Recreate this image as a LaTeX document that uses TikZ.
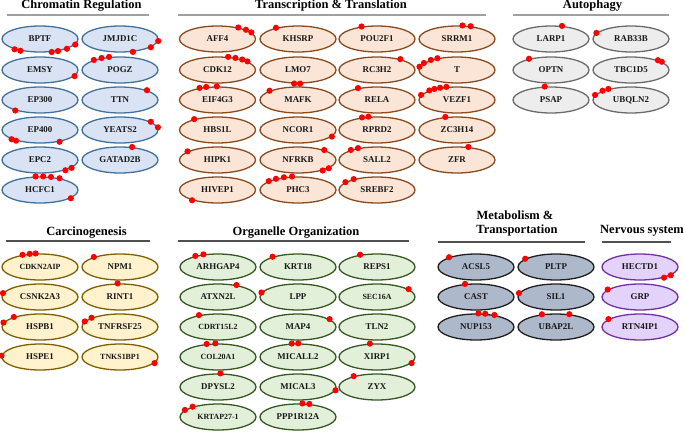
\documentclass[tikz,border=0pt]{standalone}
\usepackage{fontspec}
\setmainfont{Liberation Serif}
\usetikzlibrary{shapes.geometric}
\definecolor{chrF}{HTML}{DAE3F3}\definecolor{chrD}{HTML}{41719C}
\definecolor{trF}{HTML}{FBE5D6}\definecolor{trD}{HTML}{8B4A1E}
\definecolor{auF}{HTML}{EDEDED}\definecolor{auD}{HTML}{6B6B6B}
\definecolor{caF}{HTML}{FFF2CC}\definecolor{caD}{HTML}{7F6000}
\definecolor{orF}{HTML}{E2F0D9}\definecolor{orD}{HTML}{385723}
\definecolor{meF}{HTML}{ADB9CA}\definecolor{meD}{HTML}{1F1F1F}
\definecolor{nvF}{HTML}{E3D3FA}\definecolor{nvD}{HTML}{7030A0}
\definecolor{lineTop}{HTML}{A0A0A0}\definecolor{lineBot}{HTML}{505050}
\newcommand\putdots[2]{\foreach \a in {#2} {\fill[reddot] (#1.\a) circle (3.1pt);}}
\begin{document}
\begin{tikzpicture}[x=1pt,y=-1pt,
  gene/.style={ellipse, minimum width=76pt, minimum height=26pt, inner sep=0pt,
    line width=1.3pt, font=\bfseries\fontsize{8.9}{10}\selectfont, text=black!90},
  sm/.style={font=\bfseries\fontsize{7.9}{9}\selectfont},
  chr/.style={gene, draw=chrD, fill=chrF},
  tr/.style={gene, draw=trD, fill=trF},
  au/.style={gene, draw=auD, fill=auF},
  ca/.style={gene, draw=caD, fill=caF},
  org/.style={gene, draw=orD, fill=orF},
  met/.style={gene, draw=meD, fill=meF},
  nv/.style={gene, draw=nvD, fill=nvF},
  title/.style={font=\bfseries\fontsize{12.5}{14}\selectfont, anchor=base, inner sep=0pt},
  tlineA/.style={line width=1.3pt, draw=lineTop},
  tlineB/.style={line width=1.3pt, draw=lineBot},
  reddot/.style={fill=red}]
\useasboundingbox (0,0) rectangle (685,431);

% ---------- titles ----------
\node[title] (tChr) at (81.5,9) {Chromatin Regulation};
\draw[tlineA] (7,15) -- (149,15);
\node[title] (tTr) at (331,9) {Transcription \& Translation};
\draw[tlineA] (178,15) -- (486,15);
\node[title] (tAu) at (592.5,9) {Autophagy};
\draw[tlineA] (513,15) -- (669,15);
\node[title] (tCa) at (86.5,235) {Carcinogenesis};
\draw[tlineB] (6,241) -- (150,241);
\node[title] (tOr) at (296,235) {Organelle Organization};
\draw[tlineB] (178,241) -- (409,241);
\node[title] (tMe1) at (515,219) {Metabolism \&};
\node[title] (tMe2) at (517,233) {Transportation};
\draw[tlineB] (438,242) -- (585,242);
\node[title] (tNv) at (642,233) {Nervous system};
\draw[tlineB] (602,242) -- (671,242);

% ---------- Chromatin Regulation ----------
\node[chr] (BPTF)    at (40,39)  {BPTF};
\node[chr] (EMSY)    at (40,70)  {EMSY};
\node[chr] (EP300)   at (40,100) {EP300};
\node[chr] (EP400)   at (40,130) {EP400};
\node[chr] (EPC2)    at (40,160) {EPC2};
\node[chr] (HCFC1)   at (40,190) {HCFC1};
\node[chr] (JMJD1C)  at (120,39)  {JMJD1C};
\node[chr] (POGZ)    at (120,70)  {POGZ};
\node[chr] (TTN)     at (120,100) {TTN};
\node[chr] (YEATS2)  at (120,130) {YEATS2};
\node[chr] (GATAD2B) at (120,160) {GATAD2B};

% ---------- Transcription & Translation ----------
\node[tr] (AFF4)   at (217.5,39)  {AFF4};
\node[tr] (CDK12)  at (217.5,70)  {CDK12};
\node[tr] (EIF4G3) at (217.5,100) {EIF4G3};
\node[tr] (HBS1L)  at (217.5,130) {HBS1L};
\node[tr] (HIPK1)  at (217.5,160) {HIPK1};
\node[tr] (HIVEP1) at (217.5,190) {HIVEP1};
\node[tr] (KHSRP)  at (298,39)  {KHSRP};
\node[tr] (LMO7)   at (298,70)  {LMO7};
\node[tr] (MAFK)   at (298,100) {MAFK};
\node[tr] (NCOR1)  at (298,130) {NCOR1};
\node[tr] (NFRKB)  at (298,160) {NFRKB};
\node[tr] (PHC3)   at (298,190) {PHC3};
\node[tr] (POU2F1) at (377,39)  {POU2F1};
\node[tr] (RC3H2)  at (377,70)  {RC3H2};
\node[tr] (RELA)   at (377,100) {RELA};
\node[tr] (RPRD2)  at (377,130) {RPRD2};
\node[tr] (SALL2)  at (377,160) {SALL2};
\node[tr] (SREBF2) at (377,190) {SREBF2};
\node[tr] (SRRM1)  at (457,39)  {SRRM1};
\node[tr] (T)      at (457,70)  {T};
\node[tr] (VEZF1)  at (457,100) {VEZF1};
\node[tr] (ZC3H14) at (457,130) {ZC3H14};
\node[tr] (ZFR)    at (457,160) {ZFR};

% ---------- Autophagy ----------
\node[au] (LARP1)  at (551,39)  {LARP1};
\node[au] (OPTN)   at (551,70)  {OPTN};
\node[au] (PSAP)   at (551,100) {PSAP};
\node[au] (RAB33B) at (631,39)  {RAB33B};
\node[au] (TBC1D5) at (631,70)  {TBC1D5};
\node[au] (UBQLN2) at (631,100) {UBQLN2};

% ---------- Carcinogenesis ----------
\node[ca,sm] (CDKN2AIP) at (40,267) {CDKN2AIP};
\node[ca] (CSNK2A3)     at (40,297) {CSNK2A3};
\node[ca] (HSPB1)       at (40,327) {HSPB1};
\node[ca] (HSPE1)       at (40,357) {HSPE1};
\node[ca] (NPM1)        at (120,267) {NPM1};
\node[ca] (RINT1)       at (120,297) {RINT1};
\node[ca] (TNFRSF25)    at (120,327) {TNFRSF25};
\node[ca,sm] (TNKS1BP1) at (120,357) {TNKS1BP1};

% ---------- Organelle Organization ----------
\node[org] (ARHGAP4)       at (218,267) {ARHGAP4};
\node[org] (ATXN2L)        at (218,297) {ATXN2L};
\node[org,sm] (CDRT15L2)   at (218,327) {CDRT15L2};
\node[org,sm] (COL20A1)    at (218,357) {COL20A1};
\node[org] (DPYSL2)        at (218,387) {DPYSL2};
\node[org,sm] (KRTAP27-1)  at (218,417) {KRTAP27-1};
\node[org] (KRT18)    at (298,267) {KRT18};
\node[org] (LPP)      at (298,297) {LPP};
\node[org] (MAP4)     at (298,327) {MAP4};
\node[org] (MICALL2)  at (298,357) {MICALL2};
\node[org] (MICAL3)   at (298,387) {MICAL3};
\node[org] (PPP1R12A) at (298,417) {PPP1R12A};
\node[org] (REPS1)    at (377,267) {REPS1};
\node[org,sm] (SEC16A) at (377,297) {SEC16A};
\node[org] (TLN2)     at (377,327) {TLN2};
\node[org] (XIRP1)    at (377,357) {XIRP1};
\node[org] (ZYX)      at (377,387) {ZYX};

% ---------- Metabolism & Transportation ----------
\node[met] (ACSL5)  at (476,267) {ACSL5};
\node[met] (CAST)   at (476,297) {CAST};
\node[met] (NUP153) at (476,327) {NUP153};
\node[met] (PLTP)   at (556,267) {PLTP};
\node[met] (SIL1)   at (556,297) {SIL1};
\node[met] (UBAP2L) at (556,327) {UBAP2L};

% ---------- Nervous system ----------
\node[nv] (HECTD1)  at (640,267) {HECTD1};
\node[nv] (GRP)     at (640,297) {GRP};
\node[nv] (RTN4IP1) at (640,327) {RTN4IP1};

% ---------- red dots ----------
\putdots{BPTF}{202,211,312,326,340,351}
\putdots{JMJD1C}{357,345,315}
\putdots{POGZ}{159,147,130}
\putdots{EMSY}{350}
\putdots{EP300}{203}
\putdots{TTN}{20}
\putdots{EP400}{198,204,329}
\putdots{YEATS2}{15,4}
\putdots{EPC2}{338,346}
\putdots{GATAD2B}{47}
\putdots{HCFC1}{108,77,50,31,345}

\putdots{AFF4}{29,18,11}
\putdots{KHSRP}{153}
\putdots{POU2F1}{141}
\putdots{SRRM1}{68,43}
\putdots{CDK12}{51,34,23,16}
\putdots{LMO7}{254,279}
\putdots{RC3H2}{25}
\putdots{T}{175,168,159,149}
\putdots{EIF4G3}{146,131,93}
\putdots{MAFK}{162}
\putdots{RELA}{148}
\putdots{VEZF1}{172,161,154,144,129}
\putdots{HBS1L}{155}
\putdots{NCOR1}{349}
\putdots{RPRD2}{140,123}
\putdots{ZC3H14}{132}
\putdots{HIPK1}{164}
\putdots{NFRKB}{21,337,345}
\putdots{SALL2}{159,148}
\putdots{ZFR}{49}
\putdots{HIVEP1}{202}
\putdots{PHC3}{163,153,138,114}
\putdots{SREBF2}{166,155}

\putdots{LARP1}{50}
\putdots{RAB33B}{170}
\putdots{OPTN}{153}
\putdots{TBC1D5}{20,15}
\putdots{PSAP}{115}
\putdots{UBQLN2}{172,162,154}

\putdots{CDKN2AIP}{145,128,108}
\putdots{NPM1}{159}
\putdots{CSNK2A3}{174}
\putdots{RINT1}{100}
\putdots{HSPB1}{173,159}
\putdots{TNFRSF25}{171,162}
\putdots{HSPE1}{178}
\putdots{TNKS1BP1}{350}

\putdots{ARHGAP4}{154,139}
\putdots{KRT18}{158}
\putdots{REPS1}{144}
\putdots{ATXN2L}{33}
\putdots{LPP}{173}
\putdots{SEC16A}{14}
\putdots{CDRT15L2}{148}
\putdots{MAP4}{14}
\putdots{COL20A1}{131,101}
\putdots{MICALL2}{115,89}
\putdots{XIRP1}{118,350}
\putdots{DPYSL2}{80}
\putdots{MICAL3}{355}
\putdots{ZYX}{155}
\putdots{KRTAP27-1}{168,158}
\putdots{PPP1R12A}{72,49}

\putdots{ACSL5}{160}
\putdots{PLTP}{165}
\putdots{CAST}{130}
\putdots{SIL1}{174}
\putdots{NUP153}{80,55,33}
\putdots{UBAP2L}{138,44}

\putdots{HECTD1}{336,345}
\putdots{GRP}{167}
\putdots{RTN4IP1}{166}
\end{tikzpicture}
\end{document}
